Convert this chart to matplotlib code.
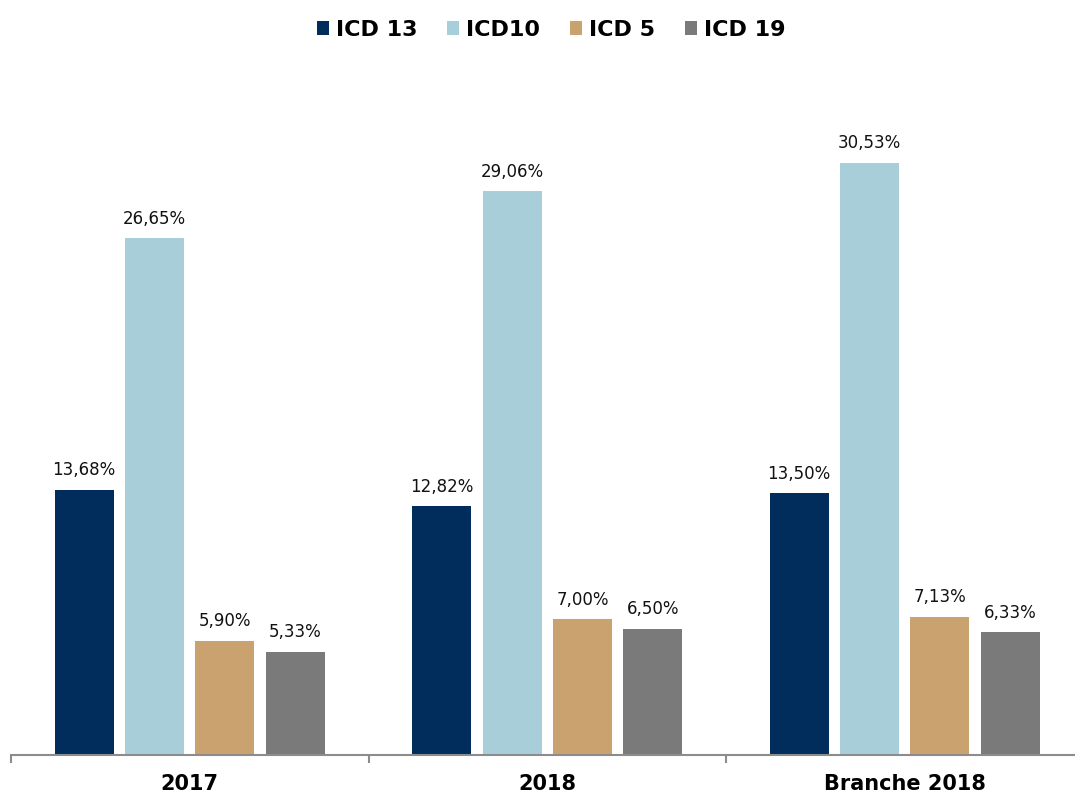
import matplotlib
matplotlib.use("Agg")
import matplotlib.pyplot as plt
import numpy as np

# 数据
categories = ["2017", "2018", "Branche 2018"]
series_names = ["ICD 13", "ICD10", "ICD 5", "ICD 19"]
icd13 = [13.68, 12.82, 13.50]
icd10 = [26.65, 29.06, 30.53]
icd5 = [5.90, 7.00, 7.13]
icd19 = [5.33, 6.50, 6.33]
colors = ["#002D5C", "#A8CFD9", "#C9A270", "#7A7A7A"]

plt.rcParams["font.family"] = ["DejaVu Sans"]

fig = plt.figure(figsize=(10.75, 7.99), dpi=100)
# 轴区域：底边在 y=755 像素处，右侧略超出画布
ax = fig.add_axes([11 / 1075, 44 / 799, 1064 / 1075, 655 / 799])

x = np.arange(len(categories))
width = 0.165
step = 0.197
offsets = [-1.5 * step, -0.5 * step, 0.5 * step, 1.5 * step]

for vals, name, col, off in zip([icd13, icd10, icd5, icd19], series_names, colors, offsets):
    bars = ax.bar(x + off, vals, width, color=col, label=name)
    for b, v in zip(bars, vals):
        ax.annotate(f"{v:.2f}%".replace(".", ","),
                    (b.get_x() + b.get_width() / 2, v),
                    xytext=(0, 7.5), textcoords="offset points",
                    ha="center", va="bottom", fontsize=12, color="#111111")

for s in ["top", "right", "left"]:
    ax.spines[s].set_visible(False)
ax.spines["bottom"].set_color("#8C8C8C")
ax.spines["bottom"].set_linewidth(1.5)
ax.set_yticks([])

ax.set_xticks(x)
ax.set_xticklabels(categories, fontsize=15, fontweight="bold")
ax.tick_params(axis="x", which="major", length=0, pad=14)
ax.set_xticks([-0.5, 0.5, 1.5, 2.5], minor=True)
ax.tick_params(axis="x", which="minor", length=6, width=1.5, color="#8C8C8C", direction="out")

# 刻度设置后再固定范围（set_xticks 会扩展视图范围）
ax.set_xlim(-0.5, -0.5 + 1064 / 357.5)
ax.set_ylim(0, 655 / 19.4)

fig.legend(loc="upper center", bbox_to_anchor=(551 / 1075, 1.0), ncol=4, frameon=False,
           prop={"size": 16, "weight": "bold"}, handlelength=0.55, handleheight=0.55,
           handletextpad=0.3, columnspacing=1.35)

fig.savefig("out.png", dpi=100)
plt.close(fig)
